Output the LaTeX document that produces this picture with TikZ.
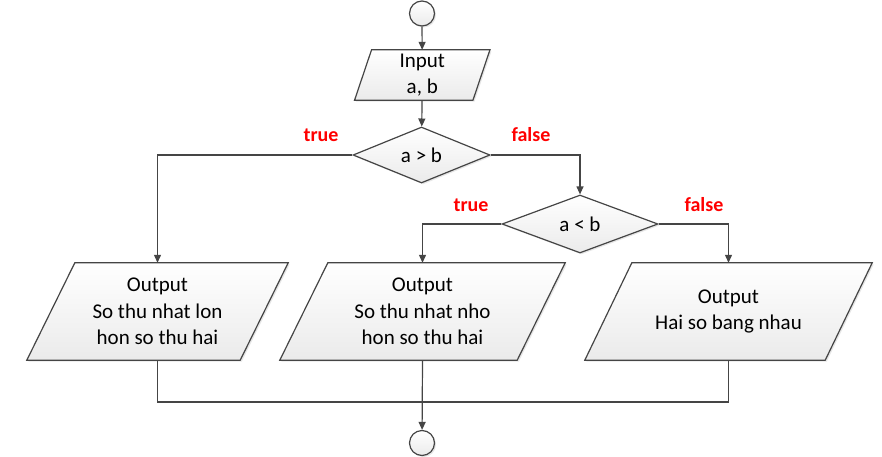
\documentclass[tikz,border=0pt]{standalone}
\usepackage{fontspec}
\setmainfont{Carlito}
\usepackage{tikz}
\usetikzlibrary{shapes,arrows.meta,shadows}
\pgfdeclarelayer{background}
\pgfsetlayers{background,main}
\definecolor{linegray}{HTML}{454545}
\definecolor{labelred}{HTML}{FF0000}
\tikzset{
  fillstyle/.style={draw=linegray, line width=1.2pt, top color=white, bottom color=gray!16,
    drop shadow={opacity=0.2, shadow xshift=1.5pt, shadow yshift=-1.5pt}},
  box/.style={fillstyle, font=\fontsize{21}{26.5}\selectfont, align=center, inner sep=0pt},
  io/.style={rectangle, font=\fontsize{21}{26.5}\selectfont, align=center, inner sep=0pt},
  test/.style={box, diamond},
  term/.style={box, circle, minimum size=25pt},
  line/.style={draw=linegray, line width=1.2pt},
  arr/.style={line, -{Triangle[length=8pt,width=7pt]}},
  tag/.style={font=\fontsize{20}{22}\selectfont\bfseries, text=labelred}
}
\begin{document}
\begin{tikzpicture}[x=1pt, y=-1pt]
  \useasboundingbox (0,0) rectangle (882,457);
  \node [term] (start) at (422,13.5) {};
  \node [io, minimum width=118pt, minimum height=50pt] (input) at (422.25,75) {Input\\a, b};
  \node [test, minimum width=137pt, minimum height=56pt] (cmp1) at (421.5,155) {a > b};
  \node [test, minimum width=156pt, minimum height=58pt] (cmp2) at (580,224) {a < b};
  \node [io, minimum width=213pt, minimum height=97pt] (out1) at (157.5,311.5)
    {Output\\So thu nhat lon\\hon so thu hai};
  \node [io, minimum width=237pt, minimum height=97pt] (out2) at (422.5,311.5)
    {Output\\So thu nhat nho\\hon so thu hai};
  \node [io, minimum width=240pt, minimum height=97pt] (out3) at (728.5,311.5)
    {Output\\Hai so bang nhau};
  \node [term] (stop) at (422,443) {};
  \coordinate (join) at (422,402);

  \begin{pgfonlayer}{background}
    \foreach \n/\s in {input/8.5, out1/24, out2/24, out3/23.5}
      \path [fillstyle] ([xshift=-\s pt]\n.south west) -- ([xshift=-\s pt]\n.south east)
        -- ([xshift=\s pt]\n.north east) -- ([xshift=\s pt]\n.north west) -- cycle;
  \end{pgfonlayer}

  \draw [arr] (start) -- (input);
  \draw [arr] (input) -- (cmp1);
  \draw [arr] (cmp1.west) -| (out1.north);
  \draw [arr] (cmp1.east) -| (cmp2.north);
  \draw [arr] (cmp2.west) -| (out2.north);
  \draw [arr] (cmp2.east) -| (out3.north);
  \draw [line] (out1.south) |- (join) -| (out3.south);
  \draw [arr] (out2.south) -- (stop);

  \node [tag] (t1) at (321,135) {true};
  \node [tag] (f1) at (531,135) {false};
  \node [tag] (t2) at (471,205) {true};
  \node [tag] (f2) at (704,205) {false};
\end{tikzpicture}
\end{document}
